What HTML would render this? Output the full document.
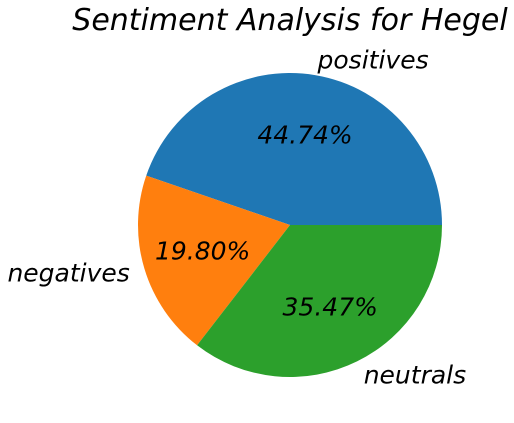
<!DOCTYPE html>
<html><head><meta charset="utf-8">
<style>
html,body{margin:0;padding:0;background:#fff;}
svg{display:block;font-family:"DejaVu Sans","Liberation Sans",sans-serif;font-style:italic;}
</style></head>
<body>
<svg id="chart" width="514" height="423">
<text x="290" y="30" text-anchor="middle" font-size="30" fill="#000">Sentiment Analysis for Hegel</text>
<g id="slices"></g>
</svg>
<script>
const categories = ["positives", "negatives", "neutrals"];
const values = [44.74, 19.80, 35.47];
const colors = ["#1f77b4", "#ff7f0e", "#2ca02c"];

const cx = 290, cy = 225, r = 152;
const g = document.getElementById('slices');
const NS = "http://www.w3.org/2000/svg";
const total = values.reduce((a,b)=>a+b,0);
function pt(angDeg, rad){const a=angDeg*Math.PI/180;return [cx+rad*Math.cos(a), cy-rad*Math.sin(a)];}
let start = 0;
values.forEach((v,i)=>{
  const sweep = v/total*360;
  const end = start+sweep;
  const [x1,y1]=pt(start,r),[x2,y2]=pt(end,r);
  const large = sweep>180?1:0;
  const p=document.createElementNS(NS,'path');
  p.setAttribute('d',`M${cx},${cy} L${x1},${y1} A${r},${r} 0 ${large} 0 ${x2},${y2} Z`);
  p.setAttribute('fill',colors[i]);
  
  
  g.appendChild(p);
  const mid=(start+end)/2;
  const [lx,ly]=pt(mid,r*1.1);
  const t=document.createElementNS(NS,'text');
  t.setAttribute('x',lx);t.setAttribute('y',ly);
  t.setAttribute('font-size','25');
  t.setAttribute('dominant-baseline','central');
  t.setAttribute('text-anchor', Math.cos(mid*Math.PI/180)>=0?'start':'end');
  t.textContent=categories[i];
  
  
  g.appendChild(t);
  const [px,py]=pt(mid,r*0.6);
  const q=document.createElementNS(NS,'text');
  q.setAttribute('x',px);q.setAttribute('y',py);
  q.setAttribute('font-size','25');
  q.setAttribute('dominant-baseline','central');
  q.setAttribute('text-anchor','middle');
  q.textContent=v.toFixed(2)+'%';
  
  
  g.appendChild(q);
  start=end;
});
</script>
</body></html>
